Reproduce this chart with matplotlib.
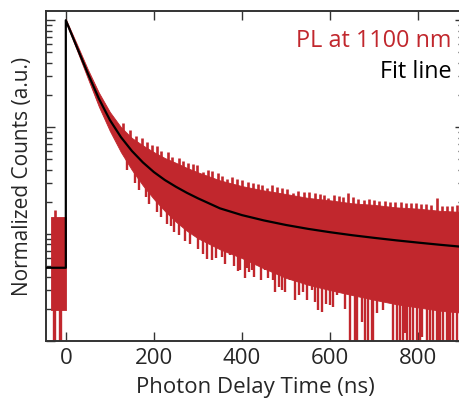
import numpy as np
import matplotlib
matplotlib.use("Agg")
import matplotlib.pyplot as plt

# ---- data: time-resolved PL decay (normalized counts, log scale) ----
# fitted decay curve
fit_time = [-45, 0, 0, 25, 50, 75, 100, 125, 150, 175, 200, 225, 250, 275,
            300, 350, 400, 450, 500, 550, 600, 650, 700, 750, 800, 850, 905]
fit_counts = [0.00484, 0.00484, 1.0, 0.562, 0.318, 0.185, 0.1168, 0.0808,
              0.0599, 0.0468, 0.0380, 0.0320, 0.0277, 0.0243, 0.0216,
              0.0174, 0.01504, 0.01341, 0.01216, 0.01119, 0.01041,
              0.00976, 0.00922, 0.00874, 0.00832, 0.00794, 0.00757]

# dense band of the measured PL trace after excitation (upper / lower edge)
env_time = [0, 25, 50, 75, 100, 125, 150, 175, 200, 225, 250, 275, 300,
            350, 400, 450, 500, 550, 600, 650, 700, 750, 800, 850, 905]
env_upper = [1.022, 0.599, 0.347, 0.2105, 0.1387, 0.1002, 0.0792, 0.0675,
             0.0584, 0.0514, 0.0464, 0.0416, 0.0378, 0.0318, 0.0281,
             0.0256, 0.0237, 0.0218, 0.0207, 0.0194, 0.01876, 0.01778,
             0.01729, 0.01650, 0.01608]
env_lower = [0.958, 0.527, 0.2856, 0.1558, 0.0922, 0.0585, 0.0398, 0.0285,
             0.02126, 0.01642, 0.01304, 0.01073, 0.00913, 0.00720, 0.00596,
             0.00477, 0.00389, 0.00336, 0.00299, 0.00269, 0.00243, 0.00221,
             0.00206, 0.00192, 0.00183]

# background counts before time zero
pre_time = [-34, 0]
pre_upper = [0.0146, 0.0146]
pre_lower = [0.00196, 0.00196]

# low-count dips below the band (0 counts shown as 1e-4, below the axis)
dip_time = [-27, -24, -13, -10, 140, 158, 166, 182, 190, 207, 215, 230, 238,
            245, 257, 270, 283, 293, 300, 312, 320, 331, 340, 354, 362, 372,
            381, 390, 395, 406, 411, 416, 422, 428, 436, 443, 452, 459, 470,
            475, 483, 490, 498, 509, 520, 530, 538, 547, 559, 565, 572, 581,
            590, 599, 606, 615, 627, 635, 645, 656, 661, 672, 679, 686, 695,
            697, 706, 720, 742, 752, 758, 765, 770, 774, 781, 788, 797, 804,
            808, 820, 827, 833, 842, 845, 849, 856, 865, 867, 872, 879, 888]
dip_counts = [1e-4, 1e-4, 1e-4, 1e-4, 0.040, 0.030, 0.026, 0.022, 0.019,
              0.016, 0.0145, 0.0125, 0.0118, 0.0105, 0.0097, 0.00854,
              0.0080, 0.0103, 0.0072, 0.0065, 0.0058, 0.00575, 0.0060,
              0.00613, 0.0052, 0.0064, 0.0050, 0.0045, 0.00464, 0.0039,
              0.00484, 0.0044, 0.00464, 0.0040, 0.00575, 0.0037, 0.00464,
              0.0039, 0.00374, 0.00289, 0.0032, 0.00301, 0.0029, 0.00374,
              0.00243, 0.0027, 0.00289, 0.0024, 0.00301, 0.0023, 0.00196,
              0.00187, 0.0022, 0.00218, 0.0021, 0.00271, 0.00301, 0.0020,
              1e-4, 1e-4, 1e-4, 0.00149, 1e-4, 1e-4, 1e-4, 1e-4, 0.00183,
              0.00196, 1e-4, 1e-4, 1e-4, 1e-4, 0.00118, 1e-4, 1e-4, 1e-4,
              1e-4, 1e-4, 0.00109, 1e-4, 1e-4, 1e-4, 1e-4, 1e-4, 1e-4, 1e-4,
              1e-4, 1e-4, 1e-4, 1e-4, 1e-4]

# high-count bursts above the band
burst_time = [-25, 130, 145, 160, 172, 185, 196, 208, 217, 232, 241, 258,
              266, 277, 288, 297, 311, 322, 333, 345, 355, 366, 377, 389,
              400, 413, 425, 437, 446, 456, 468, 479, 490, 503, 515, 527,
              540, 553, 565, 578, 586, 595, 608, 620, 630, 640, 652, 663,
              676, 688, 700, 712, 724, 736, 748, 760, 772, 783, 795, 806,
              818, 830, 842, 854, 866, 877, 888, 898]
burst_counts = [0.0168, 0.110, 0.095, 0.083, 0.080, 0.072, 0.068, 0.066,
                0.0592, 0.058, 0.053, 0.052, 0.048, 0.0464, 0.045, 0.044,
                0.0382, 0.040, 0.0385, 0.037, 0.035, 0.0329, 0.0345, 0.033,
                0.032, 0.0308, 0.030, 0.0295, 0.0285, 0.0271, 0.0285,
                0.0275, 0.027, 0.0265, 0.0243, 0.0255, 0.025, 0.0245, 0.024,
                0.0235, 0.0232, 0.0218, 0.023, 0.0228, 0.0222, 0.0243,
                0.022, 0.0215, 0.021, 0.0212, 0.0208, 0.0205, 0.0203, 0.0200,
                0.0200, 0.0198, 0.0197, 0.0195, 0.0196, 0.0192, 0.0190,
                0.0188, 0.0218, 0.0185, 0.0182, 0.0184, 0.0188, 0.0180]

x_ticks = [0, 200, 400, 600, 800]

PL_RED = "#C1272D"
FRAME = "#333333"
TEXT = "#262626"

plt.rcParams["font.family"] = ["Open Sans", "DejaVu Sans"]

fig = plt.figure(figsize=(4.60, 4.04), dpi=100)
ax = fig.add_axes([46 / 460, 63 / 404, 418.4 / 460, 330 / 404])
ax.set_yscale("log")
ax.set_xlim(-45, 905)
ax.set_ylim(1e-3, 1.22)

# measured trace
ax.fill_between(pre_time, pre_lower, pre_upper, color=PL_RED, lw=0.6, zorder=2)
ax.fill_between(env_time, env_lower, env_upper, color=PL_RED, lw=0.6, zorder=2)

log_fit_t = np.array(fit_time[2:], dtype=float)
log_fit_c = np.log10(fit_counts[2:])


def base_level(t):
    if t < 0:
        return fit_counts[0]
    return 10 ** np.interp(t, log_fit_t, log_fit_c)


dip_base = [base_level(t) for t in dip_time]
burst_base = [base_level(t) for t in burst_time]
ax.vlines(dip_time, dip_counts, dip_base, color=PL_RED, lw=1.7, zorder=2)
ax.vlines(burst_time, burst_base, burst_counts, color=PL_RED, lw=1.9,
          zorder=2)

# fit
ax.plot(fit_time, fit_counts, color="black", lw=1.6, zorder=3)

# axes styling
for side in ax.spines.values():
    side.set_color(FRAME)
    side.set_linewidth(1.4)
ax.set_xticks(x_ticks)
ax.tick_params(axis="both", which="both", direction="in", top=True,
               right=True, color=FRAME, width=1.0, labelsize=16,
               labelcolor=TEXT)
ax.tick_params(axis="both", which="major", length=6.5, pad=5)
ax.tick_params(axis="both", which="minor", length=4)
ax.tick_params(axis="x", which="minor", bottom=False, top=False)
ax.yaxis.set_tick_params(which="both", labelleft=False)

ax.set_xlabel("Photon Delay Time (ns)", fontsize=16, color=TEXT,
              labelpad=6)
ax.set_ylabel("Normalized Counts (a.u.)", fontsize=15, color=TEXT,
              labelpad=9)

ax.text(0.970, 0.892, "PL at 1100 nm", transform=ax.transAxes, ha="right",
        va="baseline", fontsize=16.8, color=PL_RED)
ax.text(0.970, 0.796, "Fit line", transform=ax.transAxes, ha="right",
        va="baseline", fontsize=16.8, color="black")

fig.savefig("out.png", dpi=100)
